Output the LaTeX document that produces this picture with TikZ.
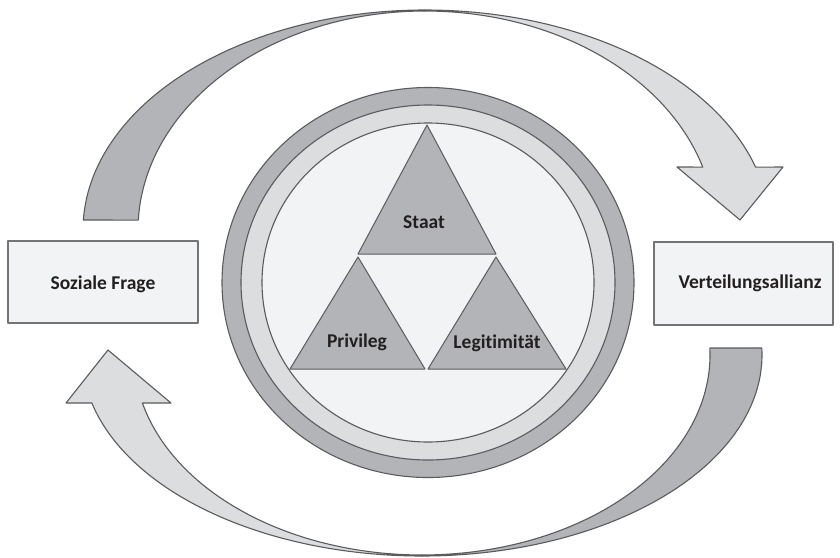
\documentclass[tikz,border=0pt]{standalone}
\usepackage{fontspec}
\setmainfont{Carlito}[Ligatures=NoCommon]
\begin{document}
\begin{tikzpicture}[x=1pt,y=-1pt,line join=round]
\definecolor{dk}{HTML}{B3B4B7}
\definecolor{lt}{HTML}{DCDDDF}
\definecolor{vl}{HTML}{F2F3F4}
\definecolor{ln}{HTML}{5A5B5D}
\definecolor{tx}{HTML}{231F20}
\tikzset{
  band/.style={draw=ln,line width=1.1pt},
  ring/.style={draw=ln,line width=1.1pt},
  lbl/.style={font=\bfseries\fontsize{19.5}{22}\selectfont,text=tx,inner sep=0pt,anchor=base},
  boxstyle/.style={draw=ln!85,line width=1.4pt,fill=vl},
  tri/.style={draw=ln,line width=1pt,fill=dk},
}
\useasboundingbox (0,0) rectangle (840,557);
% top arrow
\filldraw[band,fill=dk] plot[domain=177.4:90,samples=90] ({425+342*cos(\x)},{230-220*sin(\x)})
  -- plot[domain=90:177.4,samples=90] ({425+287*cos(\x)},{230-219*sin(\x)}) -- cycle;
\filldraw[band,fill=lt] plot[domain=90:16.6,samples=90] ({425+345*cos(\x)},{230-220*sin(\x)})
  -- (783,167) -- (740,220) -- (677,167)
  -- plot[domain=16.7:90,samples=90] ({425+290*cos(\x)},{230-219*sin(\x)}) -- cycle;
% bottom arrow
\filldraw[band,fill=dk] plot[domain=2:-90,samples=90] ({422+340*cos(\x)},{355-201*sin(\x)})
  -- plot[domain=-90:2,samples=90] ({422+288*cos(\x)},{355-200*sin(\x)}) -- cycle;
\filldraw[band,fill=lt] plot[domain=270:193.8,samples=90] ({422+340*cos(\x)},{355-201*sin(\x)})
  -- (66,403) -- (108,350) -- (171,403)
  -- plot[domain=193.9:270,samples=90] ({422+288*cos(\x)},{355-200*sin(\x)}) -- cycle;
% rings
\filldraw[ring,fill=dk] (428,282.5) ellipse [x radius=206,y radius=195];
\filldraw[ring,fill=lt] (428,282.5) ellipse [x radius=187,y radius=177.5];
\filldraw[ring,fill=vl] (428,282.5) ellipse [x radius=166,y radius=159.5];
% triangles
\filldraw[tri] (427,125) -- (496,254) -- (358,254) -- cycle;
\filldraw[tri] (358,257) -- (425,369) -- (290,369) -- cycle;
\filldraw[tri] (496,257) -- (566,369) -- (428,369) -- cycle;
\node[lbl] (staat) at (424,228) {Staat};
\node[lbl] (priv) at (357,347) {Privileg};
\node[lbl] (legit) at (497,348) {Legitimität};
% boxes
\filldraw[boxstyle] (8,241) rectangle (198,323);
\filldraw[boxstyle] (654,242) rectangle (833,325);
\node[lbl] (sf) at (103,289) {Soziale Frage};
\node[lbl] (va) at (750,288) {Verteilungsallianz};
\end{tikzpicture}
\end{document}
